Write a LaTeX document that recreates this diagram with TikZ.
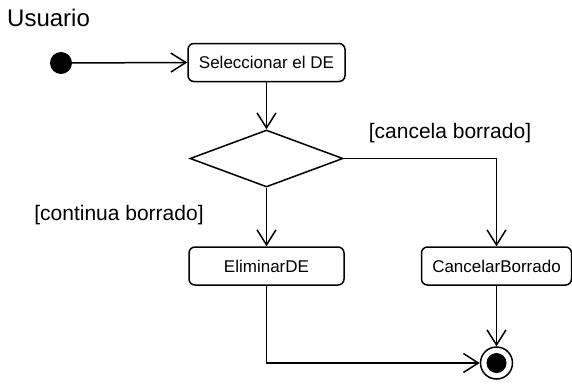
\documentclass[tikz,border=0pt]{standalone}
\usepackage{fontspec}
\setmainfont{Liberation Sans}
\usetikzlibrary{arrows.meta,shapes.geometric}
\begin{document}
\begin{tikzpicture}[x=1pt,y=-1pt,
  action/.style={draw, line width=1.5pt, rounded corners=6pt, inner sep=0pt,
    minimum height=38pt, font=\fontsize{17}{20}\selectfont},
  decision/.style={draw, line width=1.5pt, diamond, inner sep=0pt,
    minimum width=153pt, minimum height=57pt, aspect=2.68},
  guard/.style={font=\fontsize{21}{24}\selectfont, inner sep=0pt},
  flow/.style={line width=1.5pt,
    -{Straight Barb[length=15pt,width=19pt,line width=1.5pt]}}]
  \useasboundingbox (0,0) rectangle (572,383);

  % swimlane title
  \node[anchor=west, inner sep=0pt, font=\fontsize{24}{28}\selectfont] (lane) at (7,18) {Usuario};

  % start and end states
  \node[circle, fill=black, minimum size=22pt, inner sep=0pt] (start) at (61,63) {};
  \node[circle, draw, line width=1.5pt, minimum size=32pt, inner sep=0pt,
    path picture={\fill (path picture bounding box.center) circle (10pt);}] (fin) at (496.5,363) {};

  % actions and decision
  \node[action, minimum width=157pt] (sel) at (266.5,62.5) {Seleccionar el DE};
  \node[decision] (dec) at (266.5,158.5) {};
  \node[action, minimum width=155pt] (elim) at (266.5,266) {EliminarDE};
  \node[action, minimum width=150pt] (canc) at (496.5,266) {CancelarBorrado};

  % guard labels
  \node[guard] (gcancel) at (450,133) {[cancela borrado]};
  \node[guard] (gcont) at (119,215) {[continua borrado]};

  % transitions
  \draw[flow] (start) -- (sel.west);
  \draw[flow] (sel.south) -- (dec.north);
  \draw[flow] (dec.south) -- (elim.north);
  \draw[flow] (dec.east) -| (canc.north);
  \draw[flow] (elim.south) |- (fin.west);
  \draw[flow] (canc.south) -- (fin.north);
\end{tikzpicture}
\end{document}
